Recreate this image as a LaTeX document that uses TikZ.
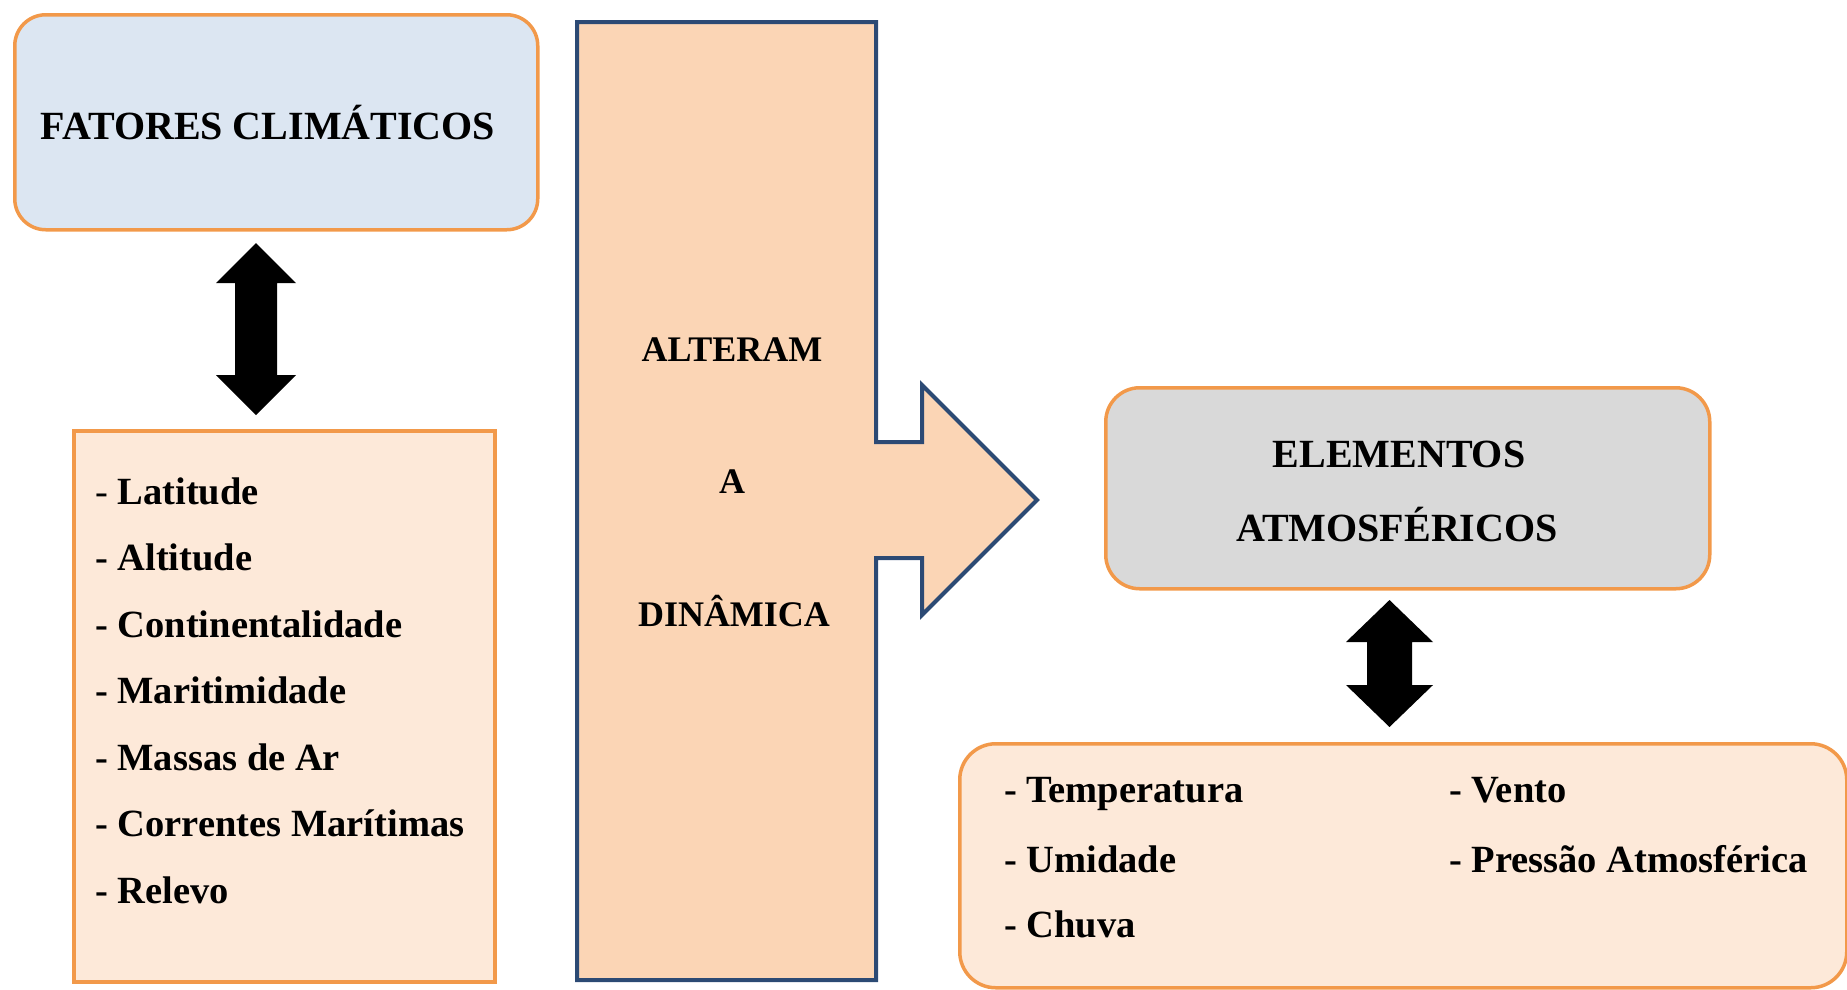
\documentclass[tikz,border=0pt]{standalone}
\usepackage{fontspec}
\setmainfont{Liberation Serif}
\definecolor{orangeB}{HTML}{F2994A}
\definecolor{blueFill}{HTML}{DCE6F2}
\definecolor{peachLight}{HTML}{FDE9D9}
\definecolor{peachArrow}{HTML}{FBD5B5}
\definecolor{grayFill}{HTML}{D9D9D9}
\definecolor{navyB}{HTML}{2C4A74}
\tikzset{
  obox/.style={draw=orangeB, line width=3.5pt, anchor=north west, inner sep=0pt},
  titletxt/.style={inner sep=0pt, font=\fontsize{40}{48}\selectfont\bfseries},
  listtxt/.style={inner sep=0pt, anchor=base west, font=\fontsize{38.5}{46}\selectfont\bfseries},
  midtxt/.style={inner sep=0pt, anchor=base, font=\fontsize{36}{43}\selectfont\bfseries}
}
\newcommand\vdoublearrow[6]{% x, ytop, ybot, headhalf, shafthalf, headlen
  \fill[black] (#1,#2) -- (#1+#4,#2+#6) -- (#1+#5,#2+#6) -- (#1+#5,#3-#6)
    -- (#1+#4,#3-#6) -- (#1,#3) -- (#1-#4,#3-#6) -- (#1-#5,#3-#6)
    -- (#1-#5,#2+#6) -- (#1-#4,#2+#6) -- cycle;}
\begin{document}
\begin{tikzpicture}[x=1pt,y=-1pt]
\useasboundingbox (0,0) rectangle (1847,989);
% boxes
\node[obox, fill=blueFill, rounded corners=31pt, minimum width=523pt, minimum height=215pt] (fat) at (13,13) {};
\node[obox, fill=peachLight, minimum width=421pt, minimum height=551pt] (list1) at (72,429) {};
\node[obox, fill=grayFill, rounded corners=34pt, minimum width=604pt, minimum height=201pt] (ele) at (1104,386) {};
\node[obox, fill=peachLight, rounded corners=36pt, minimum width=887pt, minimum height=244pt] (list2) at (958,742) {};
% big arrow shape
\draw[navyB, line width=4pt, fill=peachArrow, line join=miter]
  (577,22) -- (876,22) -- (876,442) -- (922,442) -- (922,385) -- (1037,500)
  -- (922,615) -- (922,558) -- (876,558) -- (876,980) -- (577,980) -- cycle;
% double arrows
\vdoublearrow{256}{243}{415}{40}{21}{40}
\vdoublearrow{1389.5}{600}{727}{43.5}{22.5}{42}
% texts
\node[titletxt, anchor=base] (tfat) at (268,139) {FATORES CLIMÁTICOS};
\node[listtxt] (l1) at (95,504) {{\mdseries -} Latitude};
\node[listtxt] (l2) at (95,570.5) {- Altitude};
\node[listtxt] (l3) at (95,637) {- Continentalidade};
\node[listtxt] (l4) at (95,703.5) {- Maritimidade};
\node[listtxt] (l5) at (95,770) {- Massas de Ar};
\node[listtxt] (l6) at (95,836.5) {- Correntes Marítimas};
\node[listtxt] (l7) at (95,903) {- Relevo};
\node[midtxt] (m1) at (732,361) {ALTERAM};
\node[midtxt] (m2) at (732,493) {A};
\node[midtxt] (m3) at (734,626) {DINÂMICA};
\node[titletxt, anchor=base] (e1) at (1399,467) {ELEMENTOS};
\node[titletxt, anchor=base] (e2) at (1397,541) {ATMOSFÉRICOS};
\node[listtxt] (r1) at (1004,802) {- Temperatura};
\node[listtxt] (r2) at (1004,872) {- Umidade};
\node[listtxt] (r3) at (1004,937) {- Chuva};
\node[listtxt] (r4) at (1449,802) {- Vento};
\node[listtxt] (r5) at (1449,872) {- Pressão Atmosférica};
\end{tikzpicture}
\end{document}
